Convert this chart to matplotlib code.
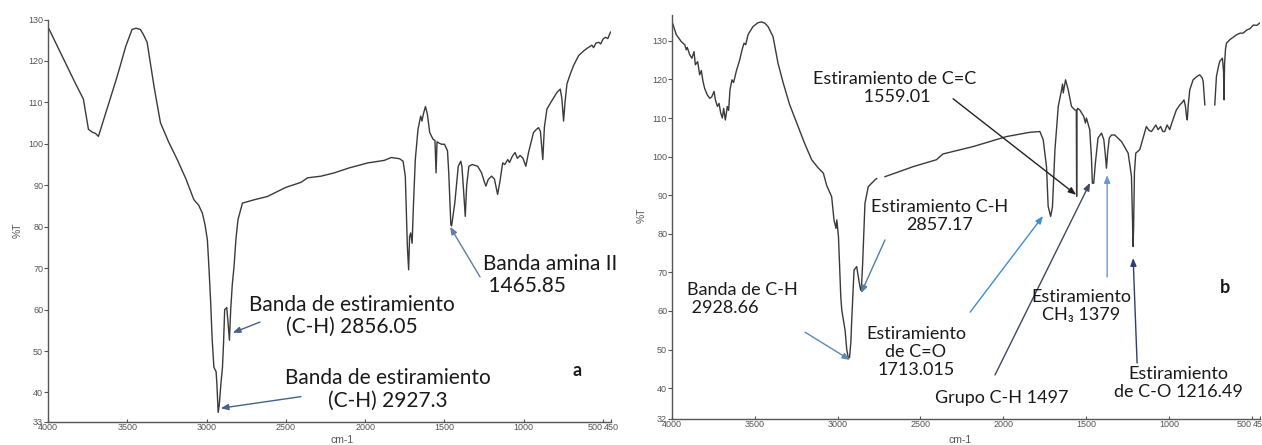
import numpy as np
import matplotlib
matplotlib.use("Agg")
import matplotlib.pyplot as plt

# ---------------- data ----------------
wn_a = [4000, 3940, 3882, 3830, 3777, 3745, 3720, 3700, 3682, 3660, 3608, 3570, 3544, 3510,
        3470, 3445, 3418, 3400, 3375, 3330, 3291, 3240, 3185, 3130, 3080, 3050, 3027, 3010,
        2995, 2985, 2975, 2965, 2954, 2940, 2935, 2927, 2920, 2910, 2900, 2893, 2886, 2873,
        2865, 2856, 2848, 2838, 2827, 2815, 2802, 2774, 2700, 2616, 2500, 2405, 2363, 2278,
        2194, 2100, 1983, 1880, 1835, 1783, 1761, 1747, 1734, 1726, 1720, 1713, 1704, 1696,
        1684, 1667, 1650, 1642, 1633, 1620, 1608, 1593, 1572, 1560, 1553, 1547, 1535, 1519,
        1500, 1481, 1473, 1460, 1455, 1445, 1435, 1413, 1397, 1390, 1380, 1369, 1360, 1346,
        1325, 1291, 1266, 1250, 1239, 1224, 1203, 1185, 1165, 1150, 1133, 1120, 1101, 1090,
        1072, 1055, 1040, 1023, 1005, 987, 970, 939, 920, 907, 895, 880, 870, 854, 823, 791,
        770, 760, 749, 740, 728, 710, 686, 654, 620, 591, 570, 560, 545, 527, 515, 500, 485,
        470, 455, 443]
t_a = [128.2, 123.5, 118.9, 114.8, 110.8, 103.5, 102.8, 102.5, 101.8, 104.5, 110.8, 115.5, 118.9, 123.5,
       127.6, 127.9, 127.6, 126.5, 124.5, 113.5, 105.1, 100.5, 96.2, 91.5, 86.5, 85.2, 83.3, 80.5,
       76.8, 70.0, 62.3, 53.0, 46.1, 45.0, 42.0, 35.2, 37.0, 42.0, 46.0, 52.0, 60.0, 60.5,
       57.0, 52.6, 60.0, 66.0, 70.4, 77.0, 81.7, 85.7, 86.5, 87.3, 89.5, 90.7, 91.8, 92.2,
       93.0, 94.2, 95.4, 96.0, 96.7, 96.4, 95.8, 92.2, 75.2, 69.6, 77.6, 78.5, 76.0, 84.9,
       96.2, 103.5, 106.7, 105.5, 107.2, 109.0, 107.2, 102.7, 101.1, 100.8, 93.0, 100.5, 100.2, 99.9,
       99.9, 98.3, 93.0, 80.5, 80.2, 83.0, 85.7, 94.6, 95.8, 94.5, 89.0, 82.5, 90.0, 94.6,
       95.0, 94.6, 93.0, 91.0, 89.8, 91.4, 92.2, 91.5, 87.8, 91.0, 95.4, 95.0, 96.2, 95.5,
       97.0, 97.9, 96.5, 97.2, 96.5, 94.6, 97.9, 102.7, 103.5, 103.9, 103.0, 96.2, 104.0, 108.4, 110.4, 112.4,
       113.2, 111.0, 105.5, 110.0, 114.4, 116.5, 118.9, 121.3, 122.5, 123.3, 123.8, 123.2, 124.3, 124.5, 124.1, 125.3, 125.7,
       125.4, 126.8, 127.3]

nan = float("nan")
wn_b = [4000, 3974, 3944, 3923, 3914, 3908, 3893, 3880, 3867, 3859, 3845, 3833, 3823, 3813,
        3803, 3787, 3772, 3760, 3746, 3738, 3726, 3716, 3706, 3696, 3688, 3678, 3666, 3658,
        3650, 3638, 3628, 3612, 3591, 3577, 3565, 3555, 3541, 3511, 3481, 3460, 3440, 3420,
        3390, 3360, 3328, 3290, 3247, 3200, 3157, 3120, 3086, 3066, 3036, 3022, 3010, 3005,
        2995, 2981, 2975, 2955, 2945, 2935, 2928, 2920, 2915, 2901, 2885, 2869, 2861, 2857,
        2849, 2835, 2815, 2774, 2764, 2740, 2714, 2544, 2403, 2383, 2363, 2182, 1980, 1840,
        1779, 1759, 1739, 1729, 1714, 1703, 1688, 1668, 1648, 1642, 1638, 1624, 1608, 1588,
        1568, 1559, 1557, 1555, 1551, 1538, 1514, 1504, 1498, 1488, 1478, 1468, 1462, 1454,
        1444, 1428, 1407, 1393, 1385, 1377, 1370, 1360, 1347, 1327, 1286, 1246, 1226, 1218,
        1216, 1213, 1208, 1200, 1176, 1155, 1136, 1120, 1105, 1090, 1079, 1065, 1050, 1037,
        1025, 1011, 995, 980, 955, 934, 920, 909, 900, 894, 889, 884, 874, 854, 830, 814,
        800, 793, 788, 783, 750, 723, 718, 713, 700, 693, 677, 670, 667, 664, 658, 652, 632,
        610, 590, 570, 552, 530, 510, 490, 470, 452]
t_b = [135.0, 131.6, 129.8, 129.0, 127.7, 128.3, 126.4, 125.5, 127.2, 123.8, 124.6, 121.2, 122.3, 119.5,
       117.7, 116.0, 115.1, 115.5, 116.9, 114.7, 113.0, 113.8, 111.3, 110.0, 112.5, 109.5, 113.0, 112.0,
       117.3, 119.9, 119.2, 122.1, 125.1, 127.7, 129.4, 129.0, 131.6, 133.7, 134.7, 134.9, 134.6, 133.7,
       131.1, 124.2, 119.0, 113.5, 108.7, 103.5, 99.2, 97.2, 95.7, 92.5, 89.6, 83.6, 81.4, 83.6,
       79.3, 63.7, 60.2, 55.0, 50.0, 47.7, 48.0, 52.0, 57.6, 70.6, 71.5, 67.2, 65.4, 65.6,
       72.3, 87.9, 92.2, 94.0, 94.3, nan, 94.8, 97.4, 99.2, 100.0, 100.7, 102.6, 105.2, 106.3,
       106.5, 104.4, 97.4, 87.1, 84.5, 87.0, 101.8, 113.0, 117.3, 118.8, 116.5, 119.9, 117.3, 113.0,
       112.1, 112.0, 89.7, 112.0, 112.5, 112.1, 110.4, 108.7, 110.0, 108.5, 107.0, 100.0, 93.1, 93.1,
       98.3, 104.8, 106.1, 104.4, 101.0, 97.0, 101.0, 104.8, 105.6, 105.6, 103.9, 100.9, 94.9, 80.0,
       76.7, 82.0, 96.0, 100.9, 101.8, 105.0, 107.8, 106.8, 106.5, 107.5, 108.2, 107.0, 107.8, 106.5,
       106.5, 108.2, 107.0, 109.0, 112.1, 113.4, 114.0, 114.7, 113.0, 110.5, 109.5, 113.0, 117.3, 119.9, 120.8, 121.2,
       120.5, 119.5, 116.5, 113.4, nan, 113.4, 117.0, 120.8, 123.5, 124.7, 125.5, 122.0, 114.7, 124.0, 128.0, 129.4, 130.3,
       131.0, 131.6, 132.0, 132.0, 132.8, 133.2, 134.1, 134.0, 134.6]

xticks = [4000, 3500, 3000, 2500, 2000, 1500, 1000, 500, 450]
yticks_a = [33, 40, 50, 60, 70, 80, 90, 100, 110, 120, 130]
yticks_b = [32, 40, 50, 60, 70, 80, 90, 100, 110, 120, 130]

# annotations: (text, text_pos(wn,T), arrow_tail(wn,T), arrow_tip(wn,T), color, ha)
ann_a = [
    ("Banda de estiramiento\n(C-H) 2856.05", (2083, 58.5), (2663, 57.0), (2835, 54.4), "#44628a", "center"),
    ("Banda de estiramiento\n(C-H) 2927.3", (1856, 40.8), (2405, 39.0), (2911, 36.2), "#44628a", "center"),
    ("Banda amina II\n 1465.85", (1257, 68.3), (1276, 67.9), (1465, 80.0), "#5f7ea0", "left"),
]
ann_b = [
    ("Estiramiento de C=C\n 1559.01", (2653, 117.9), (2303, 115.0), (1560, 90.1), "#222222", "center"),
    ("Estiramiento C-H\n2857.17", (2382, 84.7), (2714, 78.4), (2859, 64.6), "#4f7fa8", "center"),
    ("Banda de C-H\n 2928.66", (3909, 63.0), (3197, 54.5), (2925, 47.3), "#5a8ab0", "left"),
    ("Estiramiento\nde C=O\n1713.015", (2527, 49.3), (2200, 59.7), (1760, 84.6), "#3d8fcf", "center"),
    ("Grupo C-H 1497", (2007, 37.4), (2050, 43.4), (1476, 93.2), "#3c4a66", "center"),
    ("Estiramiento\nCH\u2083 1379", (1530, 61.4), (1373, 68.8), (1373, 95.2), "#6f95d6", "center"),
    ("Estiramiento\nde C-O 1216.49", (944, 41.3), (1192, 46.5), (1216, 73.7), "#2c3f75", "center"),
]

# ---------------- figure ----------------
W, H = 1262, 445
fig = plt.figure(figsize=(W / 100, H / 100), dpi=100)
fig.patch.set_facecolor("white")

def px_axes(x0, x1, ytop, ybot):
    return fig.add_axes([x0 / W, 1 - ybot / H, (x1 - x0) / W, (ybot - ytop) / H])

ax_a = px_axes(48, 611, 19.5, 421.5)
ax_b = px_axes(672, 1260, 15, 419)

tick_font = dict(family=["Liberation Sans Narrow", "Liberation Sans", "DejaVu Sans"], size=6.5, color="#555555")
text_family = ["Lato", "DejaVu Sans"]

def style(ax, ylim, yticks):
    ax.set_xlim(4000, 450)
    ax.set_ylim(*ylim)
    ax.set_xticks(xticks)
    ax.set_yticks(yticks)
    labs = ax.set_xticklabels([str(t) for t in xticks], **tick_font)
    labs[xticks.index(500)].set_ha("right")
    ax.set_yticklabels([str(t) for t in yticks], **tick_font)
    for s in ["top", "right"]:
        ax.spines[s].set_visible(False)
    for s in ["left", "bottom"]:
        ax.spines[s].set_color("#555555")
        ax.spines[s].set_linewidth(1.0)
    ax.tick_params(axis="y", direction="out", length=3, width=0.8, color="#555555", pad=0.5)
    ax.tick_params(axis="x", direction="in", length=2.5, width=0.8, color="#555555", pad=1)
    ax.set_facecolor("white")

style(ax_a, (33, 130), yticks_a)
style(ax_b, (32, 136.7), yticks_b)

ax_a.plot(wn_a, t_a, color="#3a3a3a", lw=1.0)
ax_b.plot(wn_b, t_b, color="#3a3a3a", lw=1.0)

def annotate(ax, items, fs, ls):
    for text, tpos, tail, tip, col, ha in items:
        ax.annotate("", xy=tip, xytext=tail, xycoords="data", textcoords="data",
                    arrowprops=dict(arrowstyle="-|>,head_length=0.45,head_width=0.18",
                                    color=col, lw=1.0, shrinkA=0, shrinkB=0),
                    annotation_clip=False)
        ax.text(tpos[0], tpos[1], text, ha=ha, va="center", fontsize=fs,
                family=text_family, color="#1a1a1a", linespacing=ls,
                multialignment=ha, clip_on=False)

annotate(ax_a, ann_a, 15, 1.15)
annotate(ax_b, ann_b, 13, 1.15)

ax_a.text(665, 45.4, "a", ha="center", va="center", fontsize=13, fontweight="bold",
          family=text_family, color="#1a1a1a")
ax_b.text(661, 66.2, "b", ha="center", va="center", fontsize=13, fontweight="bold",
          family=text_family, color="#1a1a1a")

lab_font = dict(family=["Liberation Sans", "DejaVu Sans"], size=7.5, color="#555555")
fig.text(18 / W, 1 - 230 / H, "%T", rotation=90, ha="center", va="center", **lab_font)
fig.text(642 / W, 1 - 215 / H, "%T", rotation=90, ha="center", va="center", **lab_font)
fig.text(342 / W, 1 - 440 / H, "cm-1", ha="center", va="center", **lab_font)
fig.text(960 / W, 1 - 440 / H, "cm-1", ha="center", va="center", **lab_font)

fig.savefig("out.png", dpi=100, facecolor="white")
